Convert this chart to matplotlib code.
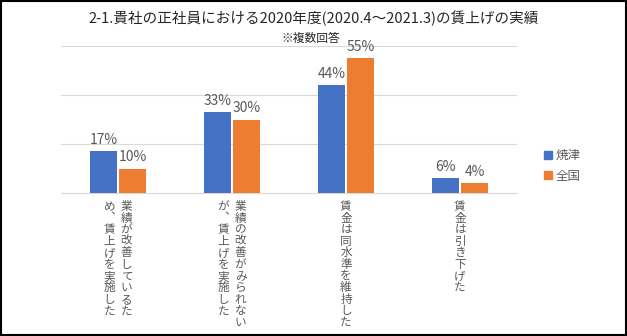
import matplotlib

matplotlib.use("Agg")
import matplotlib.pyplot as plt
from matplotlib.patches import Rectangle, Patch

plt.rcParams["font.family"] = ["Noto Sans CJK JP", "DejaVu Sans"]

# data
categories = [
    ["業績が改善しているた", "め︑賃上げを実施した"],
    ["業績の改善がみられない", "が︑賃上げを実施した"],
    ["賃金は同水準を維持した"],
    ["賃金は引き下げた"],
]
series_names = ["焼津", "全国"]
yaizu = [17, 33, 44, 6]
zenkoku = [10, 30, 55, 4]

BLUE = "#4472C4"
ORANGE = "#ED7D31"
GRAY = "#595959"

fig = plt.figure(figsize=(6.27, 3.36), dpi=100)
ax = fig.add_axes([61 / 627, 1 - 193 / 336, 456 / 627, 147 / 336])

x = list(range(len(categories)))
w = 0.23
gap = 0.025
for vals, color, shift in [(yaizu, BLUE, -(w + gap) / 2), (zenkoku, ORANGE, (w + gap) / 2)]:
    xs = [i + shift for i in x]
    bars = ax.bar(xs, vals, width=w, color=color, zorder=3)
    for b, v in zip(bars, vals):
        ax.annotate(f"{v}%", (b.get_x() + b.get_width() / 2, v), xytext=(0, 3),
                    textcoords="offset points", ha="center", va="bottom",
                    fontsize=10, color=GRAY)

ax.set_xlim(-0.5, len(categories) - 0.5)
ax.set_ylim(0, 60)
ax.set_yticks([0, 20, 40, 60])
ax.grid(axis="y", color="#D9D9D9", linewidth=0.8, zorder=0)
ax.tick_params(left=False, bottom=False, labelleft=False, labelbottom=False)
for s in ["top", "right", "left"]:
    ax.spines[s].set_visible(False)
ax.spines["bottom"].set_color("#D9D9D9")

# vertical category labels, one character at a time (columns read right to left)
step = 11.6
for i, cols in enumerate(categories):
    n = len(cols)
    for j, col in enumerate(cols):
        dx = (n - 1) * 8.5 - j * 17
        for k, ch in enumerate(col):
            ax.annotate(ch, (i, 0), xycoords=("data", "axes fraction"),
                        xytext=(dx, -7 - k * step), textcoords="offset pixels",
                        ha="center", va="top", fontsize=8.4, color=GRAY)

fig.text(0.5, 1 - 18 / 336, "2-1.貴社の正社員における2020年度(2020.4～2021.3)の賃上げの実績",
         ha="center", va="center", fontsize=10.5, color="#262626")
fig.text(311 / 627, 1 - 38 / 336, "※複数回答", ha="center", va="center",
         fontsize=8.5, color="#262626")

handles = [Patch(color=BLUE), Patch(color=ORANGE)]
fig.legend(handles, series_names, loc="center left", bbox_to_anchor=(533 / 627, 1 - 166 / 336),
           frameon=False, fontsize=9, handlelength=0.6, handleheight=0.6,
           handletextpad=0.3, labelspacing=0.6, labelcolor=GRAY)

fig.patches.append(Rectangle((0.002, 0.003), 0.996, 0.994, transform=fig.transFigure,
                             fill=False, edgecolor="black", linewidth=1.5))

fig.savefig("out.png", dpi=100)
